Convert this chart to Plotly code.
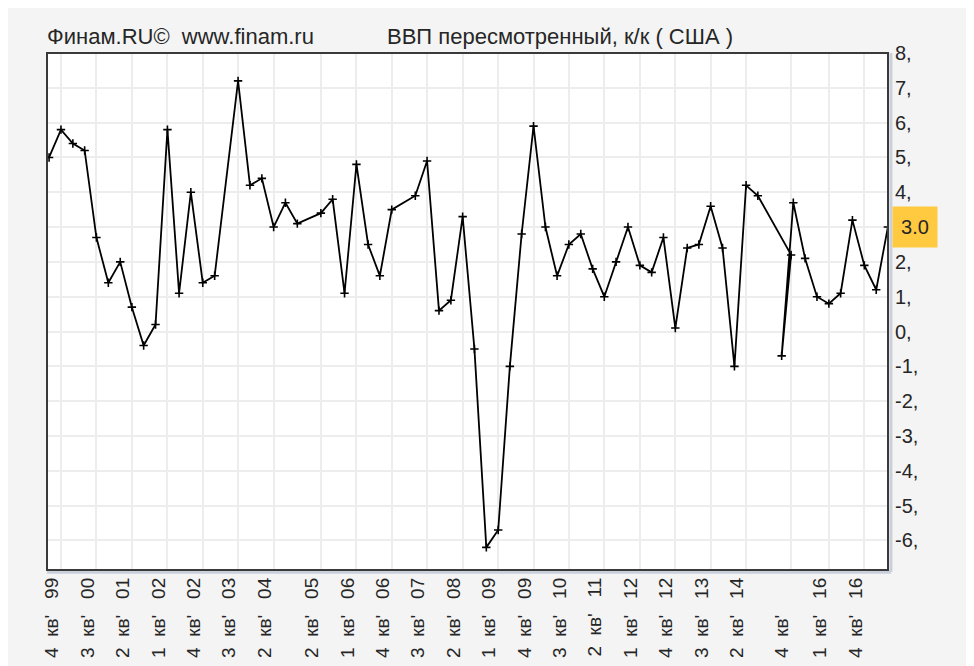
import plotly.graph_objects as go

# ---- data (US GDP, revised, q/q annualised, %) ----
dates = [
    "1999-07-01", "1999-10-01",
    "2000-01-01", "2000-04-01", "2000-07-01", "2000-10-01",
    "2001-01-01", "2001-04-01", "2001-07-01", "2001-10-01",
    "2002-01-01", "2002-04-01", "2002-07-01", "2002-10-01",
    "2003-01-01", "2003-07-01", "2003-10-01",
    "2004-01-01", "2004-04-01", "2004-07-01", "2004-10-01",
    "2005-04-01", "2005-07-01", "2005-10-01",
    "2006-01-01", "2006-04-01", "2006-07-01", "2006-10-01",
    "2007-04-01", "2007-07-01", "2007-10-01",
    "2008-01-01", "2008-04-01", "2008-07-01", "2008-10-01",
    "2009-01-01", "2009-04-01", "2009-07-01", "2009-10-01",
    "2010-01-01", "2010-04-01", "2010-07-01", "2010-10-01",
    "2011-01-01", "2011-04-01", "2011-07-01", "2011-10-01",
    "2012-01-01", "2012-04-01", "2012-07-01", "2012-10-01",
    "2013-01-01", "2013-04-01", "2013-07-01", "2013-10-01",
    "2014-01-01", "2014-04-01", "2014-07-01",
    "2015-03-15",
    "2015-01-01", "2015-04-01", "2015-07-01", "2015-10-01",
    "2016-01-01", "2016-04-01", "2016-07-01", "2016-10-01",
    "2017-01-01", "2017-04-01",
]
values = [
    5.0, 5.8,
    5.4, 5.2, 2.7, 1.4,
    2.0, 0.7, -0.4, 0.2,
    5.8, 1.1, 4.0, 1.4,
    1.6, 7.2, 4.2,
    4.4, 3.0, 3.7, 3.1,
    3.4, 3.8, 1.1,
    4.8, 2.5, 1.6, 3.5,
    3.9, 4.9, 0.6,
    0.9, 3.3, -0.5, -6.2,
    -5.7, -1.0, 2.8, 5.9,
    3.0, 1.6, 2.5, 2.8,
    1.8, 1.0, 2.0, 3.0,
    1.9, 1.7, 2.7, 0.1,
    2.4, 2.5, 3.6, 2.4,
    -1.0, 4.2, 3.9,
    2.2,
    -0.7, 3.7, 2.1, 1.0,
    0.8, 1.1, 3.2, 1.9,
    1.2, 3.0,
]

tick_dates = [
    "1999-10-01", "2000-07-01", "2001-04-01", "2002-01-01", "2002-10-01",
    "2003-07-01", "2004-04-01", "2005-04-01", "2006-01-01", "2006-10-01",
    "2007-07-01", "2008-04-01", "2009-01-01", "2009-10-01", "2010-07-01",
    "2011-04-01", "2012-01-01", "2012-10-01", "2013-07-01", "2014-04-01",
    "2015-03-15", "2016-01-01", "2016-10-01",
]
tick_quarters = [4, 3, 2, 1, 4, 3, 2, 2, 1, 4, 3, 2, 1, 4, 3, 2, 1, 4, 3, 2, 4, 1, 4]
tick_years = ["99", "00", "01", "02", "02", "03", "04", "05", "06", "06", "07", "08",
              "09", "09", "10", "11", "12", "12", "13", "14", "", "16", "16"]

y_ticks = list(range(-6, 9))

title_left = "Финам.RU©\u00a0\u00a0www.finam.ru"
title_main = "ВВП пересмотренный, к/к ( США )"

FONT = "Liberation Sans, Arial, sans-serif"
TXT = "#262626"

# empty year keeps its room (figure spaces) so the label rows stay aligned
tick_text = [f"{q}\u00a0\u00a0кв'\u00a0\u00a0\u00a0{y if y else chr(0x2007) * 2}"
             for q, y in zip(tick_quarters, tick_years)]

last_value = values[-1]
# the last-value badge covers its own grid label, as in the original chart
y_tick_text = ["" if v == round(last_value) else f"{v}," for v in y_ticks]

fig = go.Figure()
fig.add_trace(go.Scatter(
    x=dates, y=values, mode="lines+markers",
    line=dict(color="black", width=1.8),
    marker=dict(symbol="cross-thin", size=6, line=dict(color="black", width=1.6)),
    showlegend=False, hoverinfo="x+y",
))

fig.update_layout(
    width=966, height=658, autosize=False,
    margin=dict(l=39, r=86, t=45, b=96),
    paper_bgcolor="#F4F4F4", plot_bgcolor="white",
    font=dict(family=FONT, size=19, color=TXT),
    xaxis=dict(
        type="date", range=["1999-06-15", "2017-04-02"],
        tickmode="array", tickvals=tick_dates, ticktext=tick_text,
        tickangle=-90, ticks="", showgrid=True, gridcolor="#EDEDED", gridwidth=2,
        zeroline=False, showline=False, ticklabelshift=-9, ticklabelstandoff=3,
        tickfont=dict(family=FONT, size=19, color=TXT),
        automargin=False,
    ),
    yaxis=dict(
        range=[-6.85, 8], side="right",
        tickmode="array", tickvals=y_ticks, ticktext=y_tick_text,
        ticks="", showgrid=True, gridcolor="#EDEDED", gridwidth=2,
        zeroline=False, showline=False, ticklabelstandoff=6,
        tickfont=dict(family=FONT, size=20, color=TXT),
        automargin=False,
    ),
)

# frame around the plot area
fig.add_shape(type="line", xref="paper", yref="paper", x0=1.0035, x1=1.0035, y0=-0.004, y1=1,
              line=dict(color="#C9D0DC", width=3))
fig.add_shape(type="line", xref="paper", yref="paper", x0=0, x1=1.0035, y0=-0.0045, y1=-0.0045,
              line=dict(color="#C9D0DC", width=3))
fig.add_shape(type="rect", xref="paper", yref="paper", x0=0, x1=1, y0=0, y1=1,
              line=dict(color="#3A3A3A", width=2))

fig.add_annotation(text=title_left, xref="paper", yref="paper", x=0, y=1.031, xshift=-2,
                   xanchor="left", yanchor="middle", showarrow=False,
                   font=dict(family=FONT, size=22, color=TXT))
fig.add_annotation(text=title_main, xref="paper", yref="paper", x=0.4055, y=1.031, xshift=-3,
                   xanchor="left", yanchor="middle", showarrow=False,
                   font=dict(family=FONT, size=22, color=TXT))

# last value badge
fig.add_annotation(text=f"{last_value:.1f}", xref="paper", yref="y", x=1, y=last_value,
                   xshift=4, xanchor="left", yanchor="middle", showarrow=False,
                   width=28, height=24, align="center",
                   bgcolor="#FFC940", borderpad=8,
                   font=dict(family=FONT, size=20, color=TXT))

fig.write_html("out.html")
